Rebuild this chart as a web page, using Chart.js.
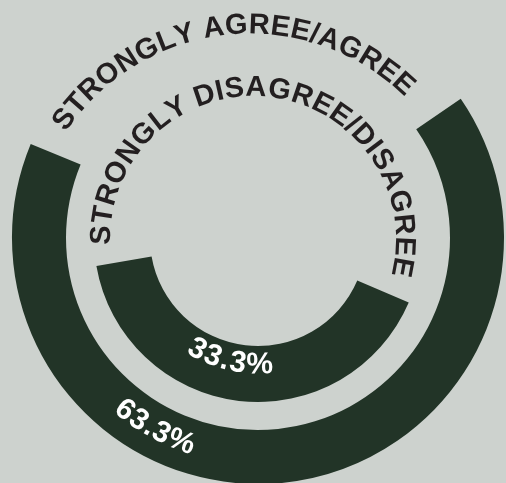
<!DOCTYPE html>
<html>
<head>
<meta charset="utf-8">
<script src="https://cdn.jsdelivr.net/npm/chart.js@4.4.1/dist/chart.umd.min.js"></script>
<style>
  html, body { margin: 0; padding: 0; background: #cdd2ce; overflow: hidden; }
  #wrap { position: relative; width: 506px; height: 483px; }
</style>
</head>
<body>
<div id="wrap"><canvas id="c"></canvas></div>
<script>
// ---- data ----
const categories = ['STRONGLY AGREE/AGREE', 'STRONGLY DISAGREE/DISAGREE'];
const values = [63.3, 33.3];
const valueLabels = ['63.3%', '33.3%'];

// ---- style ----
const BG = '#cdd2ce';
const ARC = '#223427';
const INK = '#231f20';
const FONT = '"Liberation Sans", Arial, Helvetica, sans-serif';

// ring styling (outer -> inner)
const ringStyle = [
  { rotation: 55.5, circumference: 374.4, weight: 54 },
  { rotation: 113.2, circumference: 441.4, weight: 56 }
];
const gapWeight = 28;

// label geometry
const catGeom = [
  { dx: -8, dy: 17, r: 229.5, a0: -53.8, a1: 41.9 },
  { dx: -5, dy: 1, r: 151, a0: -88.5, a1: 100.7 }
];
const valGeom = [
  { r: 218, a: 208.5 },
  { r: 127, a: 192.8 }
];

const rad = d => d * Math.PI / 180;

function drawTopText(ctx, text, cx, cy, r, a0, a1) {
  const chars = Array.from(text);
  const w = chars.map(ch => ctx.measureText(ch).width);
  const centers = [];
  let acc = 0;
  for (let i = 0; i < chars.length; i++) { centers.push(acc + w[i] / 2); acc += w[i]; }
  const c0 = centers[0], c1 = centers[centers.length - 1];
  chars.forEach((ch, i) => {
    if (ch === ' ') return;
    const t = rad(a0 + (a1 - a0) * (centers[i] - c0) / (c1 - c0));
    ctx.save();
    ctx.translate(cx + r * Math.sin(t), cy - r * Math.cos(t));
    ctx.rotate(t);
    ctx.fillText(ch, 0, 0);
    ctx.restore();
  });
}

function drawBottomText(ctx, text, cx, cy, r, aMid, spacing) {
  const chars = Array.from(text);
  const w = chars.map(ch => ctx.measureText(ch).width);
  const total = w.reduce((a, b) => a + b, 0) + spacing * (chars.length - 1);
  let pos = -total / 2;
  chars.forEach((ch, i) => {
    const c = pos + w[i] / 2;
    const t = rad(aMid) - c / r;
    ctx.save();
    ctx.translate(cx + r * Math.sin(t), cy - r * Math.cos(t));
    ctx.rotate(t - Math.PI);
    ctx.fillText(ch, 0, 0);
    ctx.restore();
    pos += w[i] + spacing;
  });
}

const labelPlugin = {
  id: 'arcLabels',
  afterDatasetsDraw(chart) {
    const ctx = chart.ctx;
    const arc = chart.getDatasetMeta(0).data[0];
    const cx = arc.x, cy = arc.y;
    ctx.save();
    ctx.textAlign = 'center';
    ctx.textBaseline = 'middle';
    ctx.fillStyle = INK;
    ctx.font = 'bold 29px ' + FONT;
    categories.forEach((txt, i) => {
      const g = catGeom[i];
      drawTopText(ctx, txt, cx + g.dx, cy + g.dy, g.r, g.a0, g.a1);
    });
    ctx.fillStyle = '#ffffff';
    ctx.font = 'bold 30px ' + FONT;
    valueLabels.forEach((txt, i) => {
      const g = valGeom[i];
      drawBottomText(ctx, txt, cx, cy, g.r, g.a, 0.5);
    });
    ctx.restore();
  }
};

const datasets = [
  {
    label: categories[0],
    data: [values[0], 100 - values[0]],
    backgroundColor: [ARC, 'rgba(0,0,0,0)'],
    rotation: ringStyle[0].rotation,
    circumference: ringStyle[0].circumference,
    weight: ringStyle[0].weight
  },
  {
    label: 'gap',
    data: [1],
    backgroundColor: ['rgba(0,0,0,0)'],
    weight: gapWeight
  },
  {
    label: categories[1],
    data: [values[1], 100 - values[1]],
    backgroundColor: [ARC, 'rgba(0,0,0,0)'],
    rotation: ringStyle[1].rotation,
    circumference: ringStyle[1].circumference,
    weight: ringStyle[1].weight
  }
];

new Chart(document.getElementById('c'), {
  type: 'doughnut',
  data: { labels: ['value', 'rest'], datasets },
  options: {
    responsive: true,
    maintainAspectRatio: false,
    animation: false,
    radius: 246,
    cutout: '43.9%',
    borderWidth: 0,
    hoverOffset: 0,
    events: [],
    layout: { padding: { left: 10, right: 0, top: 0, bottom: 7 } },
    plugins: {
      legend: { display: false },
      tooltip: { enabled: false }
    }
  },
  plugins: [labelPlugin]
});
</script>
</body>
</html>
